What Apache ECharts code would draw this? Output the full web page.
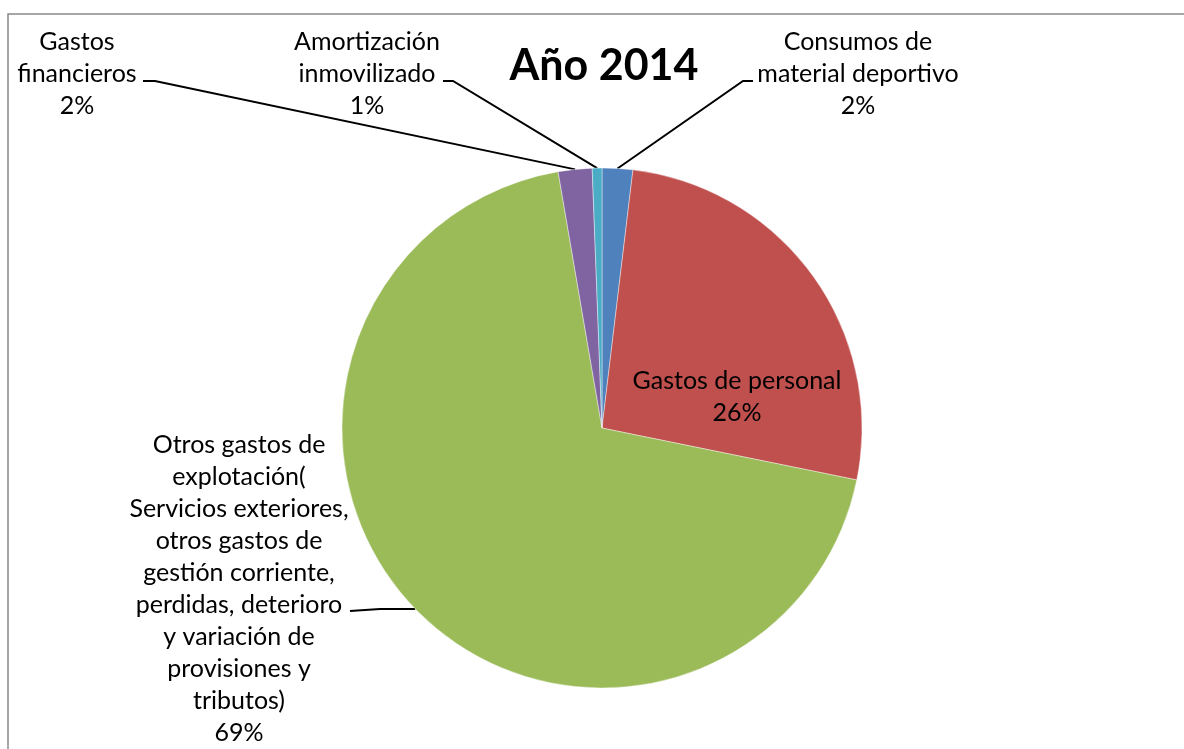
<!DOCTYPE html>
<html>
<head>
<meta charset="utf-8">
<script src="https://cdn.jsdelivr.net/npm/echarts@6/dist/echarts.min.js"></script>
<style>
html,body{margin:0;padding:0;background:#fff;}
#chart{width:1184px;height:749px;}
</style>
</head>
<body>
<div id="chart"></div>
<script>
const titleText = 'Año 2014';
const categories = [
  'Consumos de\nmaterial deportivo',
  'Gastos de personal',
  'Otros gastos de\nexplotación(\nServicios exteriores,\notros gastos de\ngestión corriente,\nperdidas, deterioro\ny variación de\nprovisiones y\ntributos)',
  'Gastos\nfinancieros',
  'Amortización\ninmovilizado'
];
const values = [1.9, 26.3, 69.1, 2.1, 0.6];
const colors = ['#4F81BD', '#C0504D', '#9BBB59', '#8064A2', '#4BACC6'];

const FONT = 'Lato';
const chart = echarts.init(document.getElementById('chart'));

// label placements (label-block centre, elbow point, end point)
const labelPlace = [
  {x: 858, y: 74, align: 'center', elbow: [743, 81], end: [753, 81]},
  {x: 737, y: 397, align: 'center'},
  {x: 239, y: 589, align: 'center', elbow: [380, 609], end: [350, 611]},
  {x: 77, y: 74, align: 'center', elbow: [155, 81], end: [143, 81]},
  {x: 367, y: 74, align: 'center', elbow: [453, 81], end: [443, 81]}
];

chart.setOption({
  animation: false,
  title: {
    text: titleText,
    left: 599,
    top: 40,
    textAlign: 'center',
    textStyle: {fontFamily: FONT, fontWeight: 'bold', fontSize: 43, color: '#000'}
  },
  graphic: [{
    type: 'rect',
    shape: {x: 8, y: 14, width: 1300, height: 900},
    style: {fill: 'none', stroke: '#898989', lineWidth: 1.5},
    silent: true
  }],
  series: [{
    type: 'pie',
    center: [602, 428],
    radius: 260,
    startAngle: 90,
    clockwise: true,
    percentPrecision: 0,
    avoidLabelOverlap: false,
    itemStyle: {borderColor: 'rgba(255,255,255,0.5)', borderWidth: 0.8},
    label: {
      show: true,
      formatter: '{b}\n{d}%',
      fontFamily: FONT,
      fontSize: 25,
      lineHeight: 32,
      color: '#000',
      align: 'center'
    },
    labelLine: {show: true, lineStyle: {color: '#000', width: 2}},
    labelLayout: function (p) {
      const pl = labelPlace[p.dataIndex];
      const out = {x: pl.x, y: pl.y, align: pl.align, verticalAlign: 'middle'};
      if (pl.elbow && p.labelLinePoints) {
        out.labelLinePoints = [p.labelLinePoints[0], pl.elbow, pl.end];
      }
      return out;
    },
    data: categories.map((c, i) => {
      const d = {name: c, value: values[i], itemStyle: {color: colors[i]}};
      if (i === 1) {
        d.label = {position: 'inside'};
        d.labelLine = {show: false};
      }
      return d;
    })
  }]
});
</script>
</body>
</html>
